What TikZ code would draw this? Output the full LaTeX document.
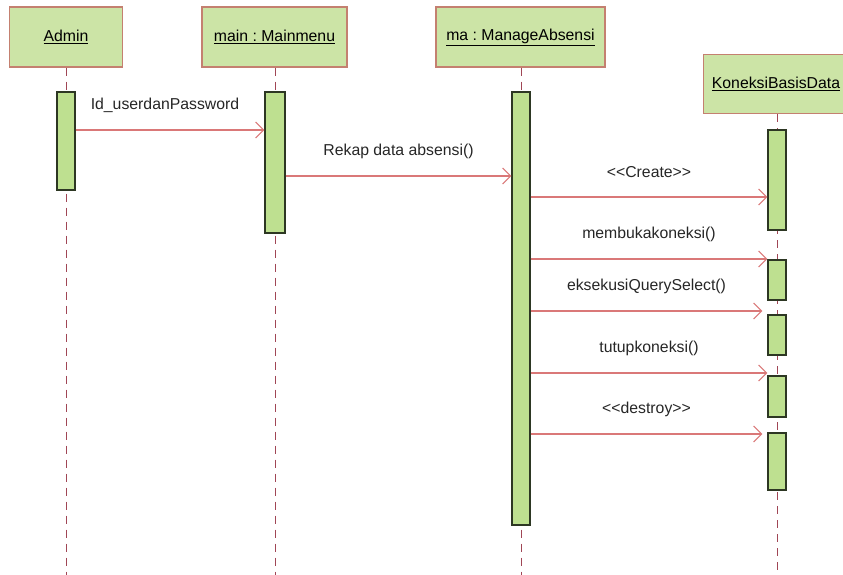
\documentclass[tikz,border=0pt]{standalone}
\usepackage{fontspec}
\setmainfont{Liberation Sans}
\usetikzlibrary{arrows.meta}
\frenchspacing
\definecolor{hdrfill}{RGB}{204,228,166}
\definecolor{hdrline}{RGB}{196,128,112}
\definecolor{actfill}{RGB}{190,224,144}
\definecolor{actline}{RGB}{45,55,35}
\definecolor{msgline}{RGB}{218,120,120}
\definecolor{lifeline}{RGB}{160,70,85}
\tikzset{
  x=1pt, y=-1pt,
  hdr/.style={draw=hdrline, fill=hdrfill, line width=1.4pt, inner sep=0pt, font=\fontsize{15.8}{18}\selectfont},
  act/.style={draw=actline, fill=actfill, line width=1.3pt, inner sep=0pt, minimum width=18pt},
  life/.style={draw=lifeline, line width=0.9pt, dash pattern=on 8pt off 6pt},
  msg/.style={draw=msgline, line width=1.2pt, -{Straight Barb[length=8pt,width=16pt,line width=1.1pt]}},
  lbl/.style={font=\fontsize{15.8}{18}\selectfont, text=black!85, yshift=25pt},
}
\begin{document}
\begin{tikzpicture}
\useasboundingbox (0,0) rectangle (843,575);
% header boxes
\node[hdr, minimum width=113pt, minimum height=60pt] (admin) at (66,37) {\underline{Admin}};
\node[hdr, minimum width=145pt, minimum height=60pt] (main) at (274.5,37) {\underline{main : Mainmenu}};
\node[hdr, minimum width=169pt, minimum height=60pt] (ma) at (520.5,37) {\underline{ma : ManageAbsensi}};
\node[hdr, minimum width=145pt, minimum height=59pt] (kb) at (776,84) {\underline{KoneksiBasisData}};
% lifelines
\coordinate (e1) at (66,575);
\coordinate (e2) at (275,575);
\coordinate (e3) at (521,575);
\coordinate (e4) at (777,575);
\draw[life] (admin.south -| 66,0) -- (e1);
\draw[life] (main.south -| 275,0) -- (e2);
\draw[life] (ma.south -| 521,0) -- (e3);
\draw[life] (kb.south -| 777,0) -- (e4);
% activations
\node[act, minimum height=98pt] (a1) at (66,141) {};
\node[act, minimum width=20pt, minimum height=141pt] (a2) at (275,162.5) {};
\node[act, minimum height=433pt] (a3) at (521,308.5) {};
\node[act, minimum height=100pt] (k1) at (777,180) {};
\node[act, minimum height=40pt] (k2) at (777,280) {};
\node[act, minimum height=40pt] (k3) at (777,335) {};
\node[act, minimum height=41pt] (k4) at (777,396.5) {};
\node[act, minimum height=57pt] (k5) at (777,461.5) {};
% messages
\draw[msg] (a1.east |- 0,130) -- node[lbl, xshift=-5pt] {Id\_userdanPassword} (a2.west |- 0,130);
\draw[msg] (a2.east |- 0,176) -- node[lbl] {Rekap data absensi()} (a3.west |- 0,176);
\draw[msg] (a3.east |- 0,197) -- node[lbl] {<{}<Create>{}>} (k1.west |- 0,197);
\draw[msg] (a3.east |- 0,259) -- node[lbl] {membukakoneksi()} (k2.west |- 0,259);
\draw[msg] (a3.east |- 0,311) -- node[lbl] {eksekusiQuerySelect()} ([xshift=-5pt]k3.west |- 0,311);
\draw[msg] (a3.east |- 0,373) -- node[lbl] {tutupkoneksi()} (k4.west |- 0,373);
\draw[msg] (a3.east |- 0,434) -- node[lbl] {<{}<destroy>{}>} ([xshift=-5pt]k5.west |- 0,434);
\end{tikzpicture}
\end{document}
